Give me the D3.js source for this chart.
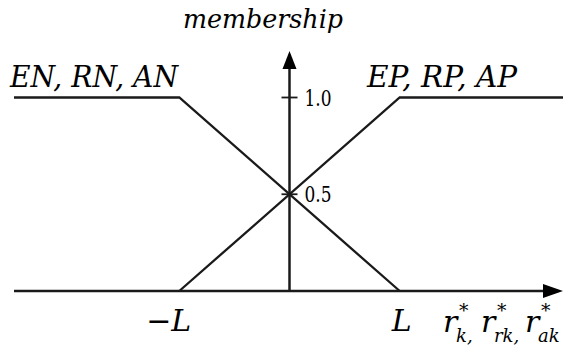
<!DOCTYPE html>
<html><head><meta charset="utf-8">
<script src="https://cdn.jsdelivr.net/npm/d3@7"></script>
<style>
html,body{margin:0;padding:0;background:#fff;overflow:hidden}
svg text{font-family:"DejaVu Serif","Liberation Serif",serif;fill:#000}
svg text.math{font-style:italic}
</style>
</head><body>
<svg id="chart" width="563" height="345"></svg>
<script>
// Trapezoidal membership functions, abscissa in units of L
const negX = [-2.5, -1, 1];
const negY = [1, 1, 0];
const posX = [-1, 1, 2.5];
const posY = [0, 1, 1];
const yTickValues = [0.5, 1.0];
const yTickLabels = ["0.5", "1.0"];
const xTickValues = [-1, 1];
const xTickLabels = ["\u2212L", "L"];
const negLabel = "EN, RN, AN";
const posLabel = "EP, RP, AP";
const yTitle = "membership";
const xTitleSubs = ["k", "rk", "ak"];

const svg = d3.select("#chart");
const x = d3.scaleLinear().domain([-2.5, 2.5]).range([14, 565]);
const y = d3.scaleLinear().domain([0, 1]).range([291, 97.5]);

const ink = "#1a1a1a";

// italic math text anchored at (px, py)
function mathText(px, py, size) {
  return svg.append("text").attr("class", "math")
    .attr("x", px).attr("y", py)
    .attr("font-size", size);
}

// axes with arrow heads
const x0 = x(0), y0 = y(0);
svg.append("line").attr("x1", x(-2.5)).attr("x2", 546).attr("y1", y0).attr("y2", y0)
  .attr("stroke", ink).attr("stroke-width", 2.5);
svg.append("path").attr("d", `M563,${y0} L543,${y0 - 7} L543,${y0 + 7} Z`).attr("fill", "#000");
svg.append("line").attr("x1", x0).attr("x2", x0).attr("y1", y0).attr("y2", 66)
  .attr("stroke", ink).attr("stroke-width", 2.5);
svg.append("path").attr("d", `M${x0},51 L${x0 - 7},69 L${x0 + 7},69 Z`).attr("fill", "#000");

// membership curves
const line = d3.line().x(d => x(d[0])).y(d => y(d[1]));
[[negX, negY], [posX, posY]].forEach(([xs, ys]) => {
  svg.append("path").datum(d3.zip(xs, ys)).attr("d", line)
    .attr("fill", "none").attr("stroke", ink).attr("stroke-width", 2.3);
});

// y ticks crossing the axis
yTickValues.forEach((v, i) => {
  svg.append("line").attr("x1", x0 - 8).attr("x2", x0 + 8).attr("y1", y(v)).attr("y2", y(v))
    .attr("stroke", ink).attr("stroke-width", 1.8);
  svg.append("text").attr("x", x0 + 15).attr("y", y(v) + 8)
    .attr("font-size", 22)
    .attr("textLength", 27).attr("lengthAdjust", "spacingAndGlyphs")
    .text(yTickLabels[i]);
});

// x tick labels
xTickValues.forEach((v, i) => {
  mathText(x(v) + 12, 331, 30).attr("text-anchor", "end").text(xTickLabels[i]);
});

// curve labels
mathText(10, 87, 30).attr("textLength", 168).attr("lengthAdjust", "spacingAndGlyphs").text(negLabel);
mathText(367, 87, 30).attr("textLength", 150).attr("lengthAdjust", "spacingAndGlyphs").text(posLabel);

// axis titles
mathText(183, 28, 26).attr("textLength", 160).attr("lengthAdjust", "spacingAndGlyphs").text(yTitle);

const rX = [443, 481, 525];
rX.forEach((rx, i) => {
  const t = mathText(rx, 332, 30);
  t.append("tspan").attr("x", rx).attr("y", 332).text("r");
  t.append("tspan").attr("x", rx + 16).attr("y", 317).attr("font-size", 19).text("*");
  t.append("tspan").attr("x", rx + 13).attr("y", 342).attr("font-size", 18)
    .text(xTitleSubs[i] + (i < 2 ? "," : ""));
});
</script>
</body></html>
